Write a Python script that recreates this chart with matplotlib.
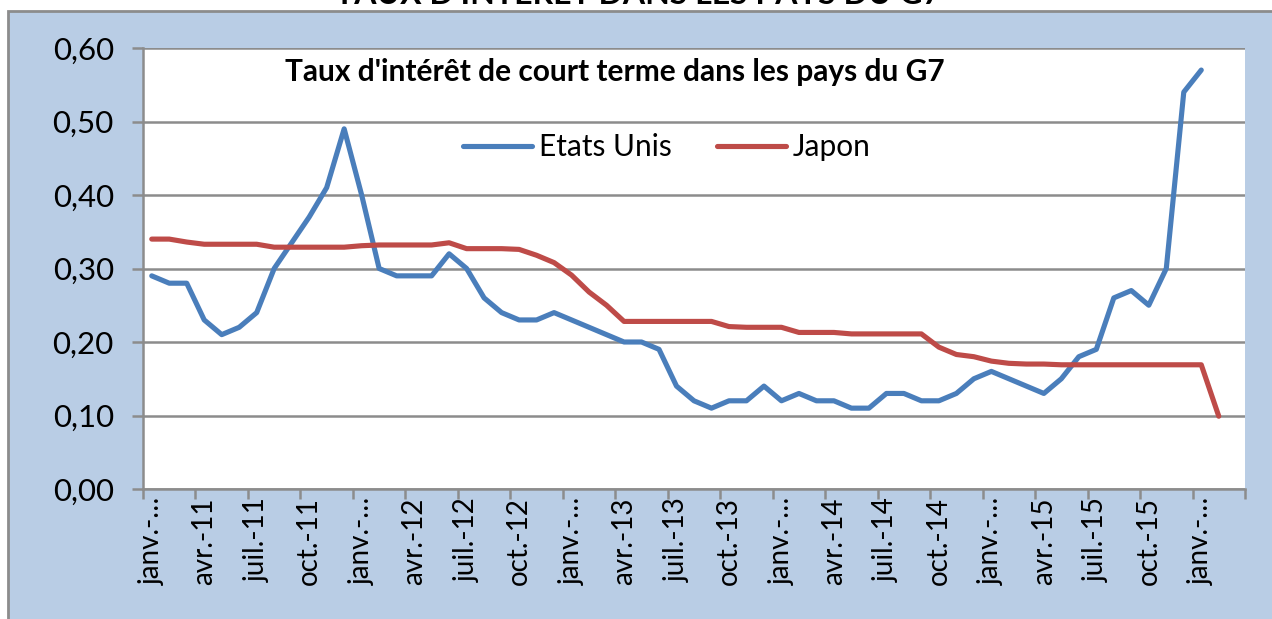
import matplotlib
matplotlib.use('Agg')
import matplotlib.pyplot as plt
from matplotlib.patches import Rectangle
from matplotlib.ticker import FixedLocator, FuncFormatter

plt.rcParams['font.family'] = ['Lato', 'DejaVu Sans']

# monthly data, janv. 2011 -> fev. 2016 (mars 2016 empty slot on the axis)
us_rates = [
    0.29, 0.28, 0.28, 0.23, 0.21, 0.22, 0.24, 0.30, 0.335, 0.37, 0.41, 0.49,
    0.40, 0.30, 0.29, 0.29, 0.29, 0.32, 0.30, 0.26, 0.24, 0.23, 0.23, 0.24,
    0.23, 0.22, 0.21, 0.20, 0.20, 0.19, 0.14, 0.12, 0.11, 0.12, 0.12, 0.14,
    0.12, 0.13, 0.12, 0.12, 0.11, 0.11, 0.13, 0.13, 0.12, 0.12, 0.13, 0.15,
    0.16, 0.15, 0.14, 0.13, 0.15, 0.18, 0.19, 0.26, 0.27, 0.25, 0.30, 0.54,
    0.57,
]
japan_rates = [
    0.340, 0.340, 0.336, 0.333, 0.333, 0.333, 0.333, 0.329, 0.329, 0.329, 0.329, 0.329,
    0.331, 0.332, 0.332, 0.332, 0.332, 0.335, 0.327, 0.327, 0.327, 0.326, 0.318, 0.308,
    0.291, 0.268, 0.250, 0.228, 0.228, 0.228, 0.228, 0.228, 0.228, 0.221, 0.220, 0.220,
    0.220, 0.213, 0.213, 0.213, 0.211, 0.211, 0.211, 0.211, 0.211, 0.193, 0.183, 0.180,
    0.174, 0.171, 0.170, 0.170, 0.169, 0.169, 0.169, 0.169, 0.169, 0.169, 0.169, 0.169,
    0.169, 0.099,
]
n_slots = 63
tick_labels = ['janv.-\u2026', 'avr.-11', 'juil.-11', 'oct.-11',
               'janv.-\u2026', 'avr.-12', 'juil.-12', 'oct.-12',
               'janv.-\u2026', 'avr.-13', 'juil.-13', 'oct.-13',
               'janv.-\u2026', 'avr.-14', 'juil.-14', 'oct.-14',
               'janv.-\u2026', 'avr.-15', 'juil.-15', 'oct.-15',
               'janv.-\u2026']

W, H = 1272, 619
fig = plt.figure(figsize=(W / 100, H / 100), dpi=100, facecolor='white')

# outer chart area frame, drawn behind the plot axes
frame = Rectangle((8 / W, -0.1), 1.2, (H - 11) / H + 0.1, transform=fig.transFigure,
                  facecolor='#B9CDE5', edgecolor='#8C8C8C', linewidth=2.0, zorder=-10)
fig.patches.append(frame)
fig.text(638 / W, 1 - 4 / H, "TAUX D'INTERET DANS LES PAYS DU G7", ha='center', va='baseline',
         fontsize=23, fontweight='bold', color='black')

ax = fig.add_axes([143 / W, (H - 489) / H, (1245 - 143) / W, (489 - 48) / H])
ax.set_facecolor('white')

x_us = [i + 0.5 for i in range(len(us_rates))]
x_jp = [i + 0.5 for i in range(len(japan_rates))]
ax.plot(x_us, us_rates, color='#4A7EBB', linewidth=3.7, solid_joinstyle='round',
        solid_capstyle='round', label='Etats Unis', zorder=3)
ax.plot(x_jp, japan_rates, color='#BE4B48', linewidth=3.7, solid_joinstyle='round',
        solid_capstyle='round', label='Japon', zorder=3)

ax.set_xlim(0, n_slots)
ax.set_ylim(0, 0.6)
ax.set_yticks([0, 0.1, 0.2, 0.3, 0.4, 0.5, 0.6])
ax.yaxis.set_major_formatter(FuncFormatter(lambda v, p: f'{v:.2f}'.replace('.', ',')))
ax.grid(axis='y', color='#8C8C8C', linewidth=1.8)
ax.set_axisbelow(True)

ax.xaxis.set_major_locator(FixedLocator(list(range(0, n_slots + 1, 3))))
ax.xaxis.set_minor_locator(FixedLocator([i * 3 + 0.5 for i in range(len(tick_labels))]))
ax.set_xticklabels([], minor=False)
ax.set_xticklabels(tick_labels, minor=True, rotation=90, fontsize=20)
ax.tick_params(axis='x', which='major', direction='out', length=7, width=1.8, color='#8C8C8C')
ax.tick_params(axis='x', which='minor', length=0, pad=6)
ax.tick_params(axis='y', direction='out', length=8, width=1.8, color='#8C8C8C',
               labelsize=22.5, pad=13)

for side in ('top', 'right'):
    ax.spines[side].set_visible(False)
for side in ('left', 'bottom'):
    ax.spines[side].set_color('#8C8C8C')
    ax.spines[side].set_linewidth(1.8)

ax.text((615 - 143) / (1245 - 143), (489 - 72) / (489 - 48),
        "Taux d'intérêt de court terme dans les pays du G7", transform=ax.transAxes,
        ha='center', va='center', fontsize=21.5, fontweight='bold')

ax.legend(loc='center', bbox_to_anchor=((667 - 143) / (1245 - 143), (489 - 147) / (489 - 48)),
          ncol=2, frameon=False, fontsize=21.5, handlelength=2.3, handletextpad=0.25,
          columnspacing=1.5)

fig.savefig('out.png', dpi=100, facecolor=fig.get_facecolor())
